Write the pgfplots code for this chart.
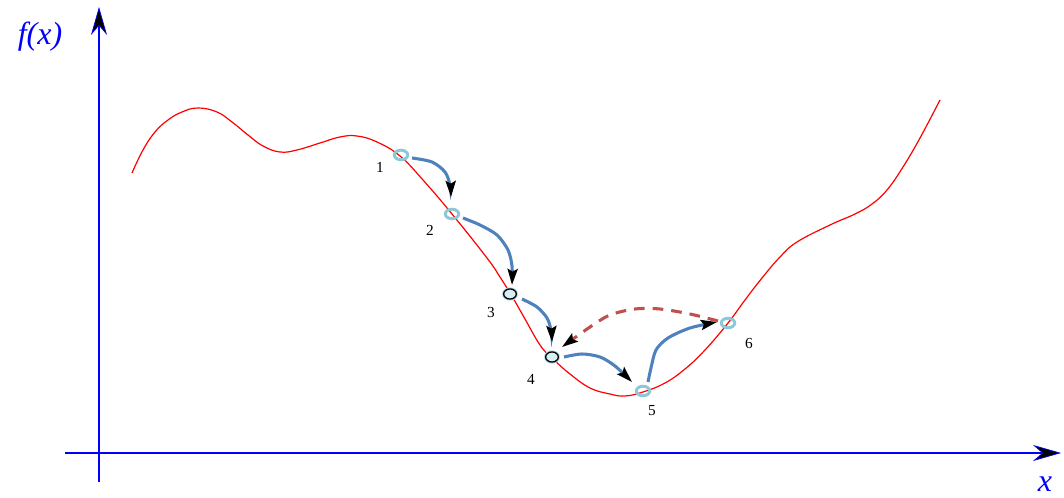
\documentclass[border=0pt]{standalone}
\usepackage{pgfplots}
\pgfplotsset{compat=1.18}
\usepackage{fontspec}
\setmainfont{Liberation Serif}
\usetikzlibrary{arrows.meta}
\definecolor{curvered}{RGB}{255,0,0}
\definecolor{arrowblue}{RGB}{79,129,189}
\definecolor{dashred}{RGB}{192,80,77}
\definecolor{ringblue}{RGB}{140,200,215}
\definecolor{ringfill}{RGB}{215,238,242}
\begin{document}
\begin{tikzpicture}
\begin{axis}[x=0.75pt,y=0.75pt,y dir=reverse,xmin=0,xmax=1064,ymin=0,ymax=498,
  hide axis,clip=false]
% axes
\addplot[blue,line width=1.1pt,-{Stealth[length=21pt,width=12pt,inset=7pt,color=blue,fill=black,line width=0.5pt]}]
  coordinates {(99,482) (99,7)};
\addplot[blue,line width=1.1pt,-{Stealth[length=21pt,width=12pt,inset=7pt,color=blue,fill=black,line width=0.5pt]}]
  coordinates {(65,453) (1061,453)};
% function curve
\addplot[curvered,line width=0.9pt,smooth,tension=0.7] coordinates {
(132,173) (143,150) (155,132) (168,120) (182,112) (198,108) (217,112)
(232,122) (248,135) (263,146) (280,152) (297,150) (320,143)
(340,137) (357,136) (377,142) (400,156) (423,180)
(452,214) (487,258) (500,277) (513,298) (525,319) (540,345)
(552,358) (570,374) (590,388) (610,394) (625,396) (643,392)
(665,383) (685,369) (705,350) (728,323) (745,300) (762,278) (780,257)
(797,242) (830,225) (855,214) (872,204) (887,190) (903,167) (920,138)
(940,100)};
% step arrows
\addplot[arrowblue,line width=2.3pt,smooth,-{Stealth[length=12pt,width=7.5pt,inset=2pt,black]}]
  coordinates {(412,158) (432,162) (445,172) (450,185) (451,197)};
\addplot[arrowblue,line width=2.3pt,smooth,-{Stealth[length=12pt,width=7.5pt,inset=2pt,black]}]
  coordinates {(463,218) (480,225) (497,235) (508,250) (512,266) (512,285)};
\addplot[arrowblue,line width=2.3pt,smooth,-{Stealth[length=12pt,width=7.5pt,inset=2pt,black]}]
  coordinates {(522,299) (537,307) (547,318) (551,330) (552,342)};
\addplot[arrowblue,line width=2.3pt,smooth,-{Stealth[length=12pt,width=7.5pt,inset=2pt,black]}]
  coordinates {(564,357) (582,354) (600,357) (615,366) (632,382)};
\addplot[arrowblue,line width=2.3pt,smooth,-{Stealth[length=12pt,width=7.5pt,inset=2pt,black]}]
  coordinates {(648,382) (651,368) (656,350) (668,338) (690,328) (717,322)};
\addplot[dashred,line width=2.3pt,smooth,dash pattern=on 8pt off 6pt,
  -{Stealth[length=12pt,width=7.5pt,inset=2pt,black]}]
  coordinates {(718,321) (690,314) (660,309) (635,309) (610,315) (590,327) (562,347)};
% iterate circles
\addplot[only marks,mark=o,mark size=3.6pt,mark options={ringblue,line width=2.2pt,xscale=1.4}]
  coordinates {(401,155) (452,214) (643,391) (728,323)};
\addplot[only marks,mark=o,mark size=4.2pt,mark options={ringblue!60,line width=1.6pt,xscale=1.25}]
  coordinates {(510,294) (552,357)};
\addplot[only marks,mark=*,mark size=3.8pt,mark options={draw=black,fill=ringfill,line width=1pt,xscale=1.25}]
  coordinates {(510,294) (552,357)};
% labels
\node[font=\fontsize{11.5pt}{13pt}\selectfont] at (axis cs:380,167) {1};
\node[font=\fontsize{11.5pt}{13pt}\selectfont] at (axis cs:430,230) {2};
\node[font=\fontsize{11.5pt}{13pt}\selectfont] at (axis cs:491,313) {3};
\node[font=\fontsize{11.5pt}{13pt}\selectfont] at (axis cs:531,379) {4};
\node[font=\fontsize{11.5pt}{13pt}\selectfont] at (axis cs:652,411) {5};
\node[font=\fontsize{11.5pt}{13pt}\selectfont] at (axis cs:749,344) {6};
\node[blue,font=\fontsize{24pt}{28pt}\selectfont\itshape] at (axis cs:40,37) {f(x)};
\node[blue,font=\fontsize{24pt}{28pt}\selectfont\itshape] at (axis cs:1045,484) {x};
\end{axis}
\pgfresetboundingbox
\path (current axis.south west) rectangle (current axis.north east);
\end{tikzpicture}
\end{document}
